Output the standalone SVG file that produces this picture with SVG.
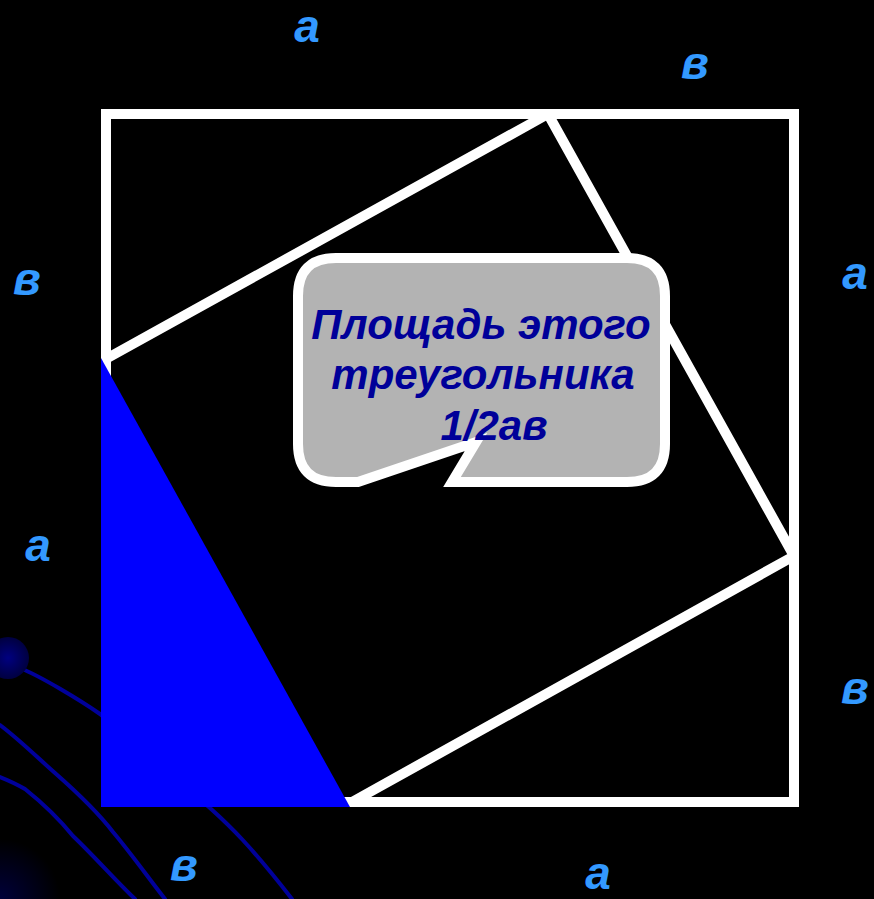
<svg xmlns="http://www.w3.org/2000/svg" width="874" height="899" viewBox="0 0 874 899">
<defs>
<radialGradient id="orb" cx="0.5" cy="0.5" r="0.5">
<stop offset="0" stop-color="#000080"/>
<stop offset="1" stop-color="#000040"/>
</radialGradient>
<radialGradient id="glow" cx="0.5" cy="0.5" r="0.5">
<stop offset="0" stop-color="#00003a"/>
<stop offset="1" stop-color="#000000"/>
</radialGradient>
</defs>
<style>
.bg{fill:#000}
.curve{fill:none;stroke:#00009a;stroke-width:4;stroke-linecap:round}
.edge{fill:none;stroke:#fff;stroke-width:10}
.lbl{font-family:"Liberation Sans",Arial,sans-serif;font-weight:bold;font-style:italic;font-size:46px;fill:#3399ff;text-anchor:middle}
.call{font-family:"Liberation Sans",Arial,sans-serif;font-weight:bold;font-style:italic;font-size:42px;fill:#000099;text-anchor:middle}
</style>
<rect class="bg" x="0" y="0" width="874" height="899"/>
<g id="decor">
<circle cx="0" cy="899" r="60" fill="url(#glow)"/>
<path class="curve" d="M20,668 C40,676 80,700 100,714 L210,808 C230,826 250,845 292,899"/>
<path class="curve" d="M0,725 C20,740 40,760 55,773 C80,795 100,815 113,832 C130,852 150,880 165,899"/>
<path class="curve" d="M0,777 C10,781 20,786 25,789 C45,805 60,820 73,836 C95,857 115,880 135,899"/>
<circle cx="8" cy="658" r="21" fill="url(#orb)"/>
</g>
<g id="outer-square">
<rect class="edge" x="106" y="114" width="688" height="688"/>
</g>
<g id="inner-square">
<polyline class="edge" stroke-linejoin="round" points="104,360 548,114 794,556 352,802"/>
</g>
<g id="blue-triangle">
<polygon points="101,358 101,807 350,807" fill="#0000ff"/>
</g>
<g id="callout">
<path d="M336,258 L627,258 Q665,258 665,296 L665,444 Q665,482 627,482 L452,482 L476,442 L358,482 L336,482 Q298,482 298,444 L298,296 Q298,258 336,258 Z" fill="#b3b3b3" stroke="#fff" stroke-width="10" stroke-linejoin="miter"/>
<text class="call" x="481" y="339">Площадь этого</text>
<text class="call" x="483" y="389">треугольника</text>
<text class="call" x="494" y="440">1/2ав</text>
</g>
<g id="labels">
<text class="lbl" x="307" y="42">а</text>
<text class="lbl" x="695" y="79">в</text>
<text class="lbl" x="27" y="295">в</text>
<text class="lbl" x="38" y="561">а</text>
<text class="lbl" x="855" y="289">а</text>
<text class="lbl" x="855" y="704">в</text>
<text class="lbl" x="184" y="881">в</text>
<text class="lbl" x="598" y="889">а</text>
</g>
</svg>
